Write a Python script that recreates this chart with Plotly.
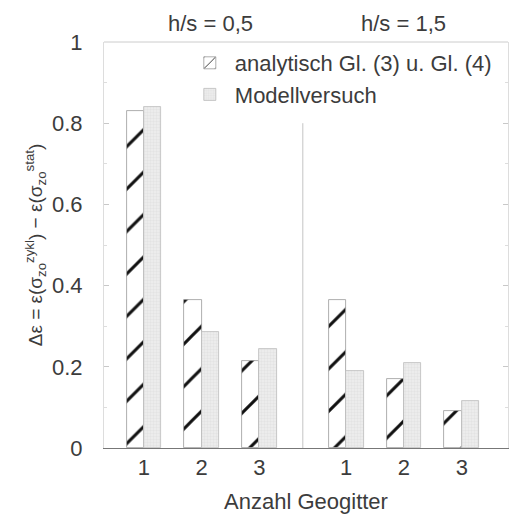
import plotly.graph_objects as go

categories = ["1", "2", "3", "1", "2", "3"]
positions = [0, 1, 2, 3.5, 4.5, 5.5]
analytisch = [0.83, 0.365, 0.215, 0.365, 0.17, 0.09]
modell = [0.84, 0.285, 0.245, 0.19, 0.21, 0.115]
group_labels = ["h/s = 0,5", "h/s = 1,5"]
yticks = [0, 0.2, 0.4, 0.6, 0.8, 1]
ytick_text = ["0", "0.2", "0.4", "0.6", "0.8", "1"]

FONT = "Liberation Sans, Arial, sans-serif"
TXT = "#3c3c3c"
FS = 22

fig = go.Figure()
fig.add_trace(go.Bar(
    x=positions, y=analytisch, width=0.3, offset=-0.3,
    name="analytisch Gl. (3) u. Gl. (4)",
    marker=dict(color="white", line=dict(color="#999999", width=0.8),
                pattern=dict(shape="/", fgcolor="#111111", bgcolor="white",
                             fgopacity=1, size=30, solidity=0.1)),
))
fig.add_trace(go.Bar(
    x=positions, y=modell, width=0.3, offset=0.0,
    name="Modellversuch",
    marker=dict(color="#e6e6e6", line=dict(color="#bbbbbb", width=0.8),
                pattern=dict(shape="+", fgcolor="#d4d4d4", bgcolor="#ececec",
                             size=3, solidity=0.3)),
))

# divider between the two groups
fig.add_shape(type="line", xref="x", yref="y", x0=2.75, x1=2.75, y0=0, y1=0.8,
              line=dict(color="#c4c4c4", width=1), layer="below")
# top frame line
fig.add_shape(type="line", xref="paper", yref="paper", x0=0, x1=1, y0=1, y1=1,
              line=dict(color="#cccccc", width=1))

# group labels above plot
for gx, gl in zip([1.15, 4.5], group_labels):
    fig.add_annotation(x=gx, y=1.0, xref="x", yref="paper", yshift=33,
                       text=gl, showarrow=False,
                       font=dict(family=FONT, size=FS, color=TXT))

fig.update_layout(
    width=510, height=517,
    margin=dict(l=104, r=2, t=42, b=69),
    paper_bgcolor="white", plot_bgcolor="white",
    font=dict(family=FONT, size=FS, color=TXT),
    showlegend=True,
    legend=dict(x=0.2, y=1.0, xanchor="left", yanchor="top",
                bgcolor="rgba(0,0,0,0)", font=dict(size=FS, color=TXT),
                itemwidth=40, tracegroupgap=0),
    bargap=0,
)
fig.update_xaxes(
    range=[-0.69, 6.3], tickmode="array", tickvals=positions, ticktext=categories,
    showgrid=False, zeroline=False, showline=True, linecolor="#777777", linewidth=1,
    ticks="", tickfont=dict(size=FS, color=TXT),
    title=dict(text="Anzahl Geogitter", font=dict(size=FS, color=TXT), standoff=14),
)
fig.update_yaxes(
    range=[0, 1], tickmode="array", tickvals=yticks, ticktext=ytick_text,
    showgrid=False, zeroline=False, showline=True, linecolor="#dddddd", linewidth=1,
    ticks="inside", ticklen=5, tickcolor="#c8c8c8", mirror="ticks",
    minor=dict(dtick=0.1, ticks="inside", ticklen=3, tickcolor="#dddddd"),
    tickfont=dict(size=22, color=TXT), ticklabelstandoff=16,
    title=dict(text="Δε = ε(σ<sub>zo</sub><sup>zykl</sup>) − ε(σ<sub>zo</sub><sup>stat</sup>)",
               font=dict(size=19, color=TXT), standoff=4),
)

fig.write_html("out.html")
